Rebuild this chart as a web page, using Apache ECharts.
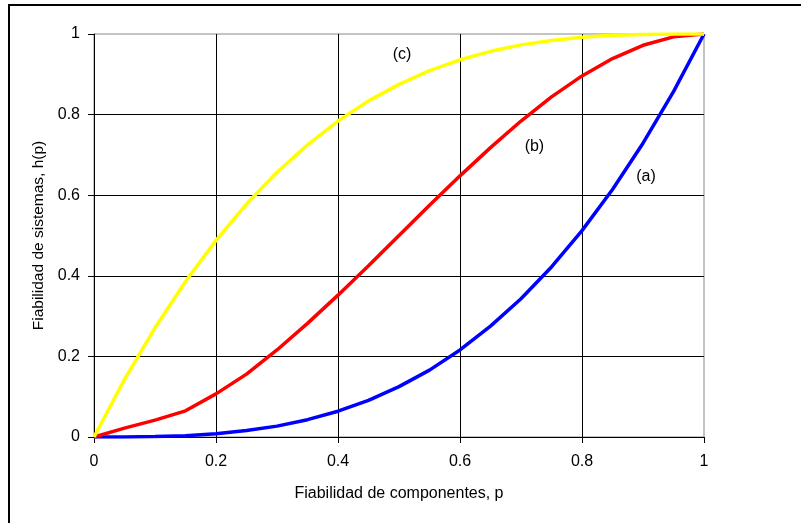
<!DOCTYPE html>
<html>
<head>
<meta charset="utf-8">
<script src="https://cdn.jsdelivr.net/npm/echarts@6/dist/echarts.min.js"></script>
<style>html,body{margin:0;padding:0;background:#fff;}#c{width:801px;height:523px;}</style>
</head>
<body>
<div id="c"></div>
<script>
var pValues = [0, 0.05, 0.1, 0.15, 0.2, 0.25, 0.3, 0.35, 0.4, 0.45, 0.5, 0.55, 0.6, 0.65, 0.7, 0.75, 0.8, 0.85, 0.9, 0.95, 1];
var seriesA = [0, 0.000, 0.001, 0.003, 0.008, 0.016, 0.027, 0.043, 0.064, 0.091, 0.125, 0.166, 0.216, 0.275, 0.343, 0.422, 0.512, 0.614, 0.729, 0.857, 1];
var seriesB = [0, 0.022, 0.042, 0.065, 0.107, 0.156, 0.216, 0.282, 0.352, 0.425, 0.5, 0.575, 0.648, 0.718, 0.784, 0.844, 0.896, 0.939, 0.972, 0.993, 1];
var seriesC = [0, 0.143, 0.271, 0.386, 0.488, 0.578, 0.657, 0.725, 0.784, 0.834, 0.875, 0.909, 0.936, 0.957, 0.973, 0.984, 0.992, 0.997, 0.999, 1, 1];
var curveLabels = [
  {text: '(a)', x: 0.905, y: 0.645},
  {text: '(b)', x: 0.722, y: 0.72},
  {text: '(c)', x: 0.505, y: 0.95}
];
var xTicks = ['0', '0.2', '0.4', '0.6', '0.8', '1'];

function pairs(ys) { return pValues.map(function (p, i) { return [p, ys[i]]; }); }

var chart = echarts.init(document.getElementById('c'));
var font = 'Liberation Sans, Arial, sans-serif';
function mkLine(name, ys, color, lbl) {
  return {
    type: 'line', name: name, data: pairs(ys), symbol: 'none', smooth: false,
    lineStyle: {color: color, width: 3.5}, itemStyle: {color: color},
    z: 3,
    markPoint: lbl ? {
      symbol: 'circle', symbolSize: 0,
      data: [{coord: [lbl.x, lbl.y], value: lbl.text}],
      label: {show: true, formatter: lbl.text, color: '#000', fontSize: 16, fontFamily: font, position: 'inside'}
    } : undefined
  };
}
chart.setOption({
  animation: false,
  backgroundColor: '#fff',
  grid: {left: 94, right: 97, top: 34, bottom: 86, show: true, borderColor: '#888', borderWidth: 1, backgroundColor: 'transparent'},
  graphic: [{type: 'rect', shape: {x: 9, y: 5, width: 900, height: 700}, style: {fill: 'none', stroke: '#000', lineWidth: 2}, silent: true}],
  xAxis: {
    type: 'value', min: 0, max: 1, interval: 0.2,
    name: 'Fiabilidad de componentes, p', nameLocation: 'middle', nameGap: 49,
    nameTextStyle: {color: '#000', fontSize: 16, fontFamily: font},
    axisLine: {show: true, lineStyle: {color: '#000', width: 1}},
    axisTick: {show: true, length: 6, inside: false, lineStyle: {color: '#000'}},
    axisLabel: {color: '#000', fontSize: 16, fontFamily: font, margin: 17, formatter: function (v) { return xTicks[Math.round(v / 0.2)]; }},
    splitLine: {show: true, showMinLine: false, showMaxLine: false, lineStyle: {color: '#000', width: 1}}
  },
  yAxis: {
    type: 'value', min: 0, max: 1, interval: 0.2,
    name: 'Fiabilidad de sistemas, h(p)', nameLocation: 'middle', nameGap: 46, nameRotate: 90,
    nameTextStyle: {color: '#000', fontSize: 15.5, fontFamily: font},
    axisLine: {show: true, lineStyle: {color: '#000', width: 1}},
    axisTick: {show: true, length: 6, inside: false, lineStyle: {color: '#000'}},
    axisLabel: {color: '#000', fontSize: 16, fontFamily: font, margin: 14, formatter: function (v) { return xTicks[Math.round(v / 0.2)]; }},
    splitLine: {show: true, showMinLine: false, showMaxLine: false, lineStyle: {color: '#000', width: 1}}
  },
  series: [
    mkLine('(a)', seriesA, '#0000FF', curveLabels[0]),
    mkLine('(b)', seriesB, '#FF0000', curveLabels[1]),
    mkLine('(c)', seriesC, '#FFFF00', curveLabels[2])
  ]
});
</script>
</body>
</html>
